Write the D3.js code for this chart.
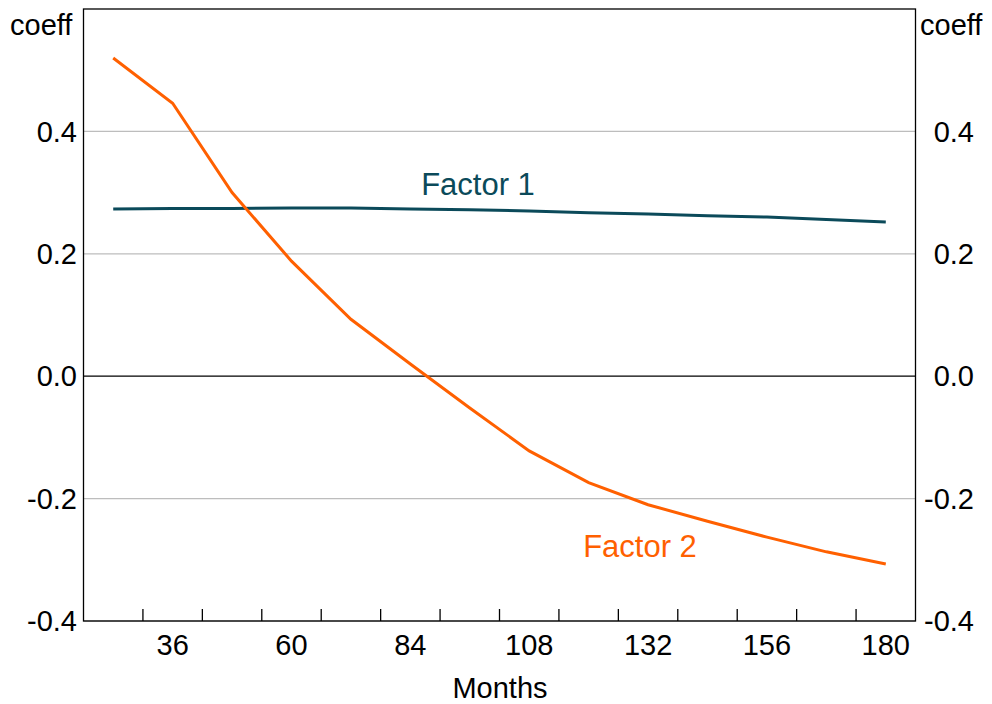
<!DOCTYPE html>
<html>
<head>
<meta charset="utf-8">
<script src="https://cdn.jsdelivr.net/npm/d3@7"></script>
<style>
  body { margin: 0; background: #fff; }
  svg text { font-family: "Liberation Sans", Arial, sans-serif; }
</style>
</head>
<body>
<div id="chart"></div>
<script>
// maturities in months
const months = [24, 36, 48, 60, 72, 84, 96, 108, 120, 132, 144, 156, 168, 180];
const factor1 = [0.273, 0.274, 0.274, 0.275, 0.275, 0.273, 0.272, 0.270, 0.267, 0.265, 0.262, 0.260, 0.256, 0.252];
const factor2 = [0.520, 0.446, 0.300, 0.188, 0.093, 0.020, -0.052, -0.122, -0.174, -0.210, -0.237, -0.263, -0.287, -0.307];
const yTicks = [-0.4, -0.2, 0.0, 0.2, 0.4];
const xLabels = [36, 60, 84, 108, 132, 156, 180];

const width = 992, height = 704;
const plot = { left: 83.5, right: 915.5, top: 9, bottom: 621 };
const fontSize = 29;

const svg = d3.select("#chart").append("svg")
    .attr("width", width)
    .attr("height", height);

const x = d3.scaleBand().domain(months).range([plot.left, plot.right]);
const y = d3.scaleLinear().domain([-0.4, 0.6]).range([plot.bottom, plot.top]);
const cx = d => x(d) + x.bandwidth() / 2;

// gridlines
svg.append("g").selectAll("line")
    .data(yTicks)
    .join("line")
    .attr("x1", plot.left).attr("x2", plot.right)
    .attr("y1", d => y(d)).attr("y2", d => y(d))
    .attr("stroke", d => d === 0 ? "#000" : "#bdbdbd")
    .attr("stroke-width", 1.3);

// frame
svg.append("rect")
    .attr("x", plot.left).attr("y", plot.top)
    .attr("width", plot.right - plot.left).attr("height", plot.bottom - plot.top)
    .attr("fill", "none")
    .attr("stroke", "#000")
    .attr("stroke-width", 1.3);

// x tick marks at category boundaries
svg.append("g").selectAll("line")
    .data(months.slice(1))
    .join("line")
    .attr("x1", d => x(d)).attr("x2", d => x(d))
    .attr("y1", plot.bottom).attr("y2", plot.bottom - 12)
    .attr("stroke", "#000")
    .attr("stroke-width", 1.3);

// x labels
svg.append("g").selectAll("text")
    .data(xLabels)
    .join("text")
    .attr("x", d => cx(d))
    .attr("y", 645)
    .attr("dy", "0.35em")
    .attr("text-anchor", "middle")
    .attr("font-size", fontSize)
    .text(d => d);

svg.append("text")
    .attr("x", 500).attr("y", 688).attr("dy", "0.35em")
    .attr("text-anchor", "middle")
    .attr("font-size", fontSize)
    .text("Months");

// y labels both sides
const fmt = d3.format(".1f");
[77, 974].forEach(xp => {
    svg.append("g").selectAll("text")
        .data(yTicks)
        .join("text")
        .attr("x", xp)
        .attr("y", d => y(d))
        .attr("dy", "0.35em")
        .attr("text-anchor", "end")
        .attr("font-size", fontSize)
        .text(d => fmt(d).replace("−", "-"));
});

svg.append("text").attr("x", 10).attr("y", 25).attr("dy", "0.35em")
    .attr("font-size", fontSize).text("coeff");
svg.append("text").attr("x", 920).attr("y", 25).attr("dy", "0.35em")
    .attr("font-size", fontSize).text("coeff");

// lines
const line = d3.line()
    .x((d, i) => cx(months[i]))
    .y(d => y(d));

svg.append("path")
    .datum(factor1)
    .attr("fill", "none")
    .attr("stroke", "#0b4a5a")
    .attr("stroke-width", 3)
    .attr("d", line);

svg.append("path")
    .datum(factor2)
    .attr("fill", "none")
    .attr("stroke", "#ff6000")
    .attr("stroke-width", 3)
    .attr("d", line);

svg.append("text")
    .attr("x", 478).attr("y", 184).attr("dy", "0.35em")
    .attr("text-anchor", "middle")
    .attr("font-size", 31)
    .attr("fill", "#0b4a5a")
    .text("Factor 1");

svg.append("text")
    .attr("x", 640).attr("y", 546).attr("dy", "0.35em")
    .attr("text-anchor", "middle")
    .attr("font-size", 31)
    .attr("fill", "#ff6000")
    .text("Factor 2");
</script>
</body>
</html>
